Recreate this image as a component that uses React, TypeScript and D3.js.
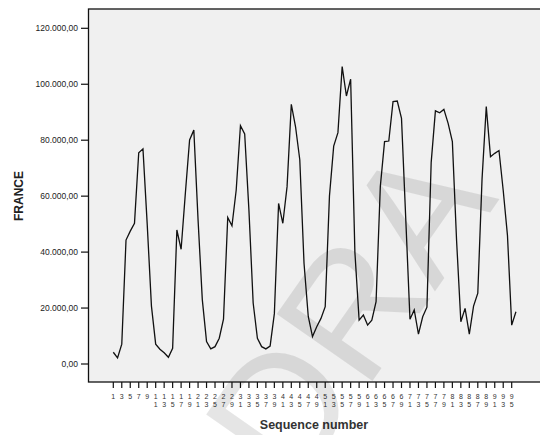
import React from "react";
import * as d3 from "d3";

const sequence: number[] = Array.from({ length: 96 }, (_, i) => i + 1);
const france: number[] = [
  4200, 2200, 7100, 44300, 47500, 50300, 75500, 76900, 50000, 20700, 7100, 5300,
  4000, 2400, 5600, 47900, 41000, 61000, 80100, 83600, 51500, 23000, 8000, 5400,
  6200, 9200, 16000, 52400, 49400, 62200, 85200, 82200, 55000, 21800, 9200, 6200,
  5400, 6400, 18000, 57400, 50300, 63400, 92800, 84800, 73000, 36000, 17000, 9800,
  13300, 16300, 20500, 60000, 77900, 82700, 106300, 95800, 101800, 40000, 15700, 17500,
  13900, 15700, 22300, 63400, 79500, 79700, 93800, 94000, 87800, 52000, 16000, 19300,
  10700, 16900, 20300, 72000, 90500, 89800, 91000, 86000, 79500, 44000, 15100, 19900,
  10700, 20700, 25300, 66000, 92000, 74100, 75300, 76300, 62000, 46000, 13900, 18700,
];
const yTicks: number[] = [0, 20000, 40000, 60000, 80000, 100000, 120000];
const xTicks: number[] = Array.from({ length: 48 }, (_, i) => 2 * i + 1);
const yTitle = "FRANCE";
const xTitle = "Sequence number";
const watermark = "DRA";

const W = 540;
const H = 435;

export default function App() {
  const frameLeft = 88.5;
  const frameTop = 9;
  const frameBottom = 382;
  const x = d3.scaleLinear().domain([1, 95]).range([113.3, 511.7]);
  const y = d3.scaleLinear().domain([0, 120000]).range([364, 28.3]);
  const loc = d3.formatLocale({
    decimal: ",",
    thousands: ".",
    grouping: [3],
    currency: ["", ""],
  });
  const fmt = loc.format(",.2f");
  const line = d3
    .line<number>()
    .x((_, i) => x(sequence[i]))
    .y((d) => y(d));
  const font = "Arial, 'Liberation Sans', Helvetica, sans-serif";

  // watermark placement
  const ang = -55;
  const wx = 294;
  const wy = 493;

  return (
    <svg
      width={W}
      height={H}
      style={{ position: "absolute", left: 0, top: 0, background: "#fff" }}
      fontFamily={font}
    >
      <rect x={0} y={0} width={W} height={H} fill="#fff" />
      <rect
        x={frameLeft}
        y={frameTop}
        width={W + 10 - frameLeft}
        height={frameBottom - frameTop}
        fill="#f0f0f0"
        stroke="#111"
        strokeWidth={1.3}
      />
      {yTicks.map((t) => (
        <g key={"y" + t}>
          <line x1={81} x2={frameLeft} y1={y(t)} y2={y(t)} stroke="#111" strokeWidth={1.2} />
          <text
            x={78}
            y={y(t)}
            dy="0.35em"
            textAnchor="end"
            fontSize={8.5}
            fill="#222"
          >
            {fmt(t)}
          </text>
        </g>
      ))}
      {xTicks.map((t) => {
        const s = String(t);
        return (
          <g key={"x" + t}>
            <line
              x1={x(t)}
              x2={x(t)}
              y1={frameBottom}
              y2={frameBottom + 6}
              stroke="#111"
              strokeWidth={1.2}
            />
            {s.split("").map((c, j) => (
              <text
                key={j}
                x={x(t)}
                y={397 + j * 8}
                dy="0.35em"
                textAnchor="middle"
                fontSize={7}
                fill="#333"
              >
                {c}
              </text>
            ))}
          </g>
        );
      })}
      <path d={line(france) || ""} fill="none" stroke="#111" strokeWidth={1.3} strokeLinejoin="miter" />
      <text
        transform={`translate(19,196) rotate(-90)`}
        textAnchor="middle"
        dy="0.35em"
        fontSize={12}
        fontWeight="bold"
        fill="#222"
      >
        {yTitle}
      </text>
      <text
        x={314}
        y={425}
        dy="0.35em"
        textAnchor="middle"
        fontSize={12.5}
        fontWeight="bold"
        fill="#333"
      >
        {xTitle}
      </text>
      <text
        transform={`translate(${wx},${wy}) rotate(${ang})`}
        fontSize={170}
        fill="#000"
        fillOpacity={0.1}
      >
        {watermark}
      </text>
    </svg>
  );
}
